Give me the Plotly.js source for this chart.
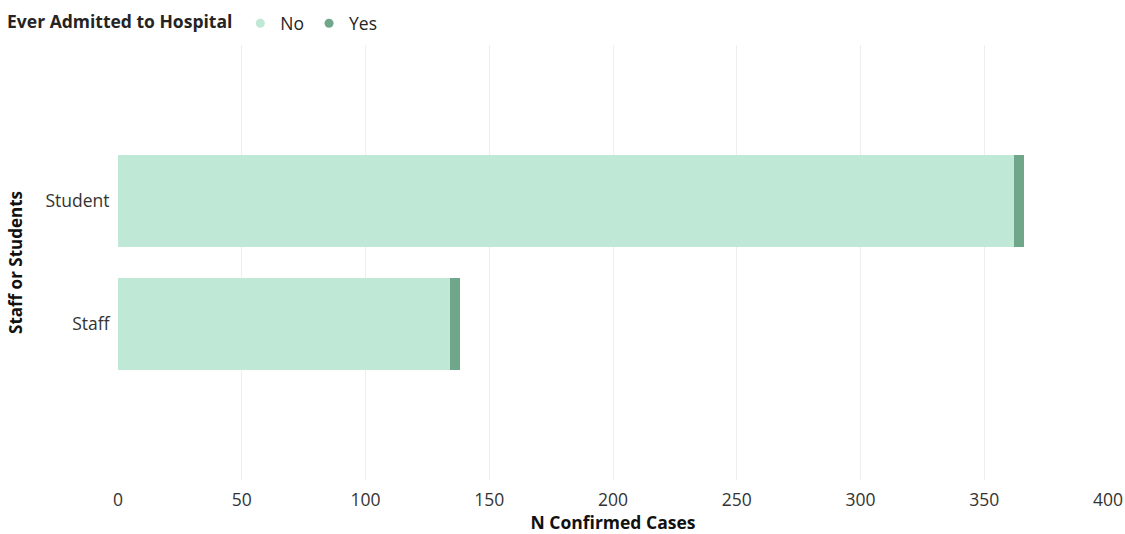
<!DOCTYPE html>
<html>
<head>
<meta charset="utf-8">
<script src="https://cdn.plot.ly/plotly-3.0.1.min.js"></script>
<style>html,body{margin:0;padding:0;background:#fff;}#chart{width:1125px;height:534px;}</style>
</head>
<body>
<div id="chart"></div>
<script>
const categories = ["Staff", "Student"];
const noValues = [134, 362];
const yesValues = [4, 4];
const seriesNames = ["No", "Yes"];
const xTicks = [0, 50, 100, 150, 200, 250, 300, 350, 400];

const colNo = "#BFE8D7";
const colYes = "#70A68A";
const fontFam = "'Open Sans', 'Noto Sans', sans-serif";

const traces = [
  {type: "bar", orientation: "h", y: categories, x: noValues, name: seriesNames[0],
   marker: {color: colNo}, showlegend: false},
  {type: "bar", orientation: "h", y: categories, x: yesValues, name: seriesNames[1],
   marker: {color: colYes}, showlegend: false},
  {type: "scatter", mode: "markers", x: [null], y: [null], name: seriesNames[0],
   marker: {color: colNo, size: 9, symbol: "circle"}, showlegend: true},
  {type: "scatter", mode: "markers", x: [null], y: [null], name: seriesNames[1],
   marker: {color: colYes, size: 9, symbol: "circle"}, showlegend: true}
];

const layout = {
  width: 1125, height: 534,
  paper_bgcolor: "#ffffff", plot_bgcolor: "#ffffff",
  margin: {l: 118, r: 17, t: 45, b: 54, autoexpand: false},
  barmode: "stack",
  bargap: 0.25,
  font: {family: fontFam, color: "#252423", size: 17},
  xaxis: {
    range: [0, 400], tickvals: xTicks, ticktext: xTicks.map(String),
    showgrid: true, gridcolor: "#EEEEEE", gridwidth: 1, zeroline: false,
    showline: false, ticks: "outside", ticklen: 4, tickcolor: "rgba(0,0,0,0)",
    tickfont: {size: 17.5, color: "#333333"}, automargin: true,
    title: {text: "<b>N Confirmed Cases</b>", font: {size: 17.5, color: "#111111"}, standoff: 8}
  },
  yaxis: {
    type: "category", categoryorder: "array", categoryarray: categories,
    range: [-1.27, 2.27], showgrid: false, zeroline: false, showline: false,
    ticks: "outside", ticklen: 4, tickcolor: "rgba(0,0,0,0)",
    tickfont: {size: 17.5, color: "#333333"}, automargin: false,
    title: {text: "<b>Staff or Students</b>", font: {size: 17, color: "#111111"}, standoff: 18}
  },
  legend: {
    orientation: "h", xref: "container", yref: "container",
    x: 0.0045, xanchor: "left", y: 0.99, yanchor: "top",
    traceorder: "normal",
    title: {text: "<b>Ever Admitted to Hospital</b>", font: {size: 17.5, color: "#252423"}},
    font: {size: 17.5, color: "#252423"},
    itemwidth: 30, tracegroupgap: 0, bgcolor: "rgba(0,0,0,0)"
  },
  showlegend: true
};

Plotly.newPlot("chart", traces, layout, {displayModeBar: false, staticPlot: true});
</script>
</body>
</html>
